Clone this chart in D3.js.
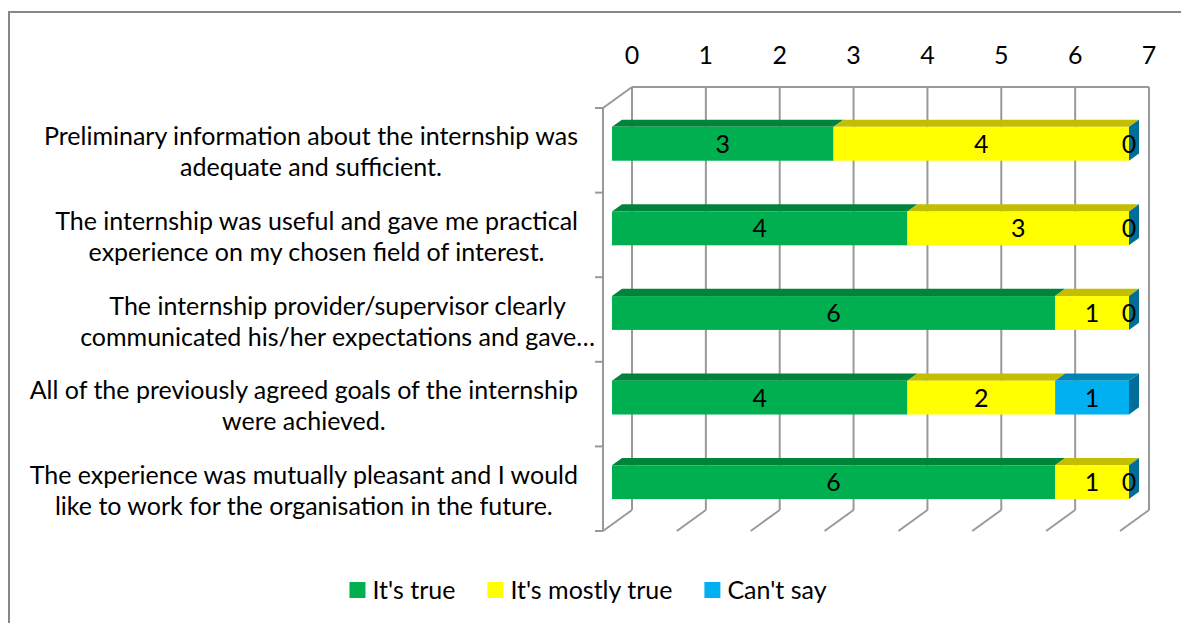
<!DOCTYPE html>
<html>
<head>
<meta charset="utf-8">
<script src="https://cdn.jsdelivr.net/npm/d3@7"></script>
<style>
    body { margin: 0; background: #fff; }
    svg text { font-family: Lato, "Open Sans", sans-serif; fill: #000; }
</style>
</head>
<body>
<div id="chart"></div>
<script>

var categories = [
    ["Preliminary information about the internship was", "adequate and sufficient."],
    ["The internship was useful and gave me practical", "experience on my chosen field of interest."],
    ["The internship provider/supervisor clearly", "communicated his/her expectations and gave\u2026"],
    ["All of the previously agreed goals of the internship", "were achieved."],
    ["The experience was mutually pleasant and I would", "like to work for the organisation in the future."]
]

var seriesNames = ["It's true", "It's mostly true", "Can't say"]

var itsTrue = [3, 4, 6, 4, 6]
var mostlyTrue = [4, 3, 1, 2, 1]
var cantSay = [0, 0, 0, 1, 0]

var xTicks = [0, 1, 2, 3, 4, 5, 6, 7]

var colors = ["#00B050", "#FFFF00", "#00B0F0"]
var topColors = ["#00843C", "#C4BE00", "#0084B4"]
var sideColors = ["#007A38", "#B5B000", "#006E98"]

var W = 1181, H = 623
var FONT = 25

// back wall of the 3d box
var BACK_TOP = 87, BACK_BOTTOM = 510
var DEPTH_X = -29, DEPTH_Y = 21
// bar faces as a fraction of the depth
var BAR_FRONT = 0.69, BAR_BACK = 0.345
var BAR_THICK = 0.4

var svg = d3.select("#chart").append("svg")
    .attr("width", W)
    .attr("height", H)

svg.append("rect")
    .attr("x", 9).attr("y", 12)
    .attr("width", 1300).attr("height", 800)
    .attr("fill", "none")
    .attr("stroke", "#878787")
    .attr("stroke-width", 2)

var x = d3.scaleLinear().domain([0, 7]).range([632, 1149])
var idx = d3.range(categories.length)
var y = d3.scaleBand().domain(idx).range([BACK_TOP, BACK_BOTTOM])
var bw = y.bandwidth()

var grid = svg.append("g")
    .attr("stroke", "#999999")
    .attr("stroke-width", 2)
    .attr("fill", "none")

// back wall verticals + floor diagonals
xTicks.forEach(function (t) {
    grid.append("line")
        .attr("x1", x(t)).attr("y1", BACK_TOP)
        .attr("x2", x(t)).attr("y2", BACK_BOTTOM)
    grid.append("line")
        .attr("x1", x(t)).attr("y1", BACK_BOTTOM)
        .attr("x2", x(t) + DEPTH_X).attr("y2", BACK_BOTTOM + DEPTH_Y)
})
grid.append("line")
    .attr("x1", x(0)).attr("y1", BACK_TOP)
    .attr("x2", x(7)).attr("y2", BACK_TOP)
grid.append("line")
    .attr("x1", x(0)).attr("y1", BACK_TOP)
    .attr("x2", x(0) + DEPTH_X).attr("y2", BACK_TOP + DEPTH_Y)

// front category axis
var axisX = x(0) + DEPTH_X
grid.append("line")
    .attr("x1", axisX).attr("y1", BACK_TOP + DEPTH_Y)
    .attr("x2", axisX).attr("y2", BACK_BOTTOM + DEPTH_Y)
d3.range(categories.length + 1).forEach(function (i) {
    var yy = BACK_TOP + DEPTH_Y + i * bw
    grid.append("line")
        .attr("x1", axisX - 8).attr("y1", yy)
        .attr("x2", axisX).attr("y2", yy)
})

// top value axis labels
svg.append("g").selectAll("text")
    .data(xTicks)
    .enter().append("text")
    .attr("x", function (d) { return x(d) })
    .attr("y", 64)
    .attr("text-anchor", "middle")
    .style("font-size", FONT + "px")
    .text(function (d) { return d })

// stacked segments
var stack = d3.stack().keys([0, 1, 2]).value(function (i, k) {
    return [itsTrue, mostlyTrue, cantSay][k][i]
})(idx)

var fdx = DEPTH_X * BAR_FRONT, fdy = DEPTH_Y * BAR_FRONT
var bdx = DEPTH_X * BAR_BACK, bdy = DEPTH_Y * BAR_BACK

var bars = svg.append("g")
var labels = svg.append("g")

stack.forEach(function (layer, k) {
    layer.forEach(function (seg, i) {
        var x0 = x(seg[0]), x1 = x(seg[1])
        var top = y(i) + bw * (1 - BAR_THICK) / 2
        var h = bw * BAR_THICK
        var ft = top + fdy, bt = top + bdy

        // top face
        bars.append("polygon")
            .attr("points", [
                [x0 + fdx, ft], [x1 + fdx, ft], [x1 + bdx, bt], [x0 + bdx, bt]
            ].join(" "))
            .attr("fill", topColors[k])

        bars.append("rect")
            .attr("x", x0 + fdx)
            .attr("y", ft)
            .attr("width", x1 - x0)
            .attr("height", h)
            .attr("fill", colors[k])

        // right end of the stack
        if (k === stack.length - 1) {
            bars.append("polygon")
                .attr("points", [
                    [x1 + fdx, ft], [x1 + bdx, bt], [x1 + bdx, bt + h], [x1 + fdx, ft + h]
                ].join(" "))
                .attr("fill", sideColors[k])
        }

        labels.append("text")
            .attr("x", (x0 + x1) / 2 + fdx)
            .attr("y", ft + h / 2)
            .attr("dy", "0.36em")
            .attr("text-anchor", "middle")
            .style("font-size", FONT + "px")
            .text(seg[1] - seg[0])
    })
})

// category labels, wrapped lines centred in a block ending at the axis
var catG = svg.append("g")
categories.forEach(function (lines, i) {
    var c = DEPTH_Y + y(i) + bw / 2
    var g = catG.append("g")
    var texts = lines.map(function (l, j) {
        return g.append("text")
            .attr("y", c - 5 + j * 31)
            .attr("text-anchor", "middle")
            .style("font-size", FONT + "px")
            .text(l)
    })
    var widths = texts.map(function (t) { return t.node().getComputedTextLength() })
    var blockW = d3.max(widths)
    var right = /\u2026$/.test(lines[lines.length - 1]) ? axisX - 8 : axisX - 25
    texts.forEach(function (t) { t.attr("x", right - blockW / 2) })
})

// legend
var legend = svg.append("g")
var lx = 0
seriesNames.forEach(function (name, k) {
    legend.append("rect")
        .attr("x", lx).attr("y", 582)
        .attr("width", 16).attr("height", 16)
        .attr("fill", colors[k])
    var t = legend.append("text")
        .attr("x", lx + 23)
        .attr("y", 599)
        .style("font-size", FONT + "px")
        .text(name)
    lx += 23 + t.node().getComputedTextLength() + 32
})
lx -= 32
legend.attr("transform", "translate(" + (588 - lx / 2) + ",0)")

</script>
</body>
</html>
